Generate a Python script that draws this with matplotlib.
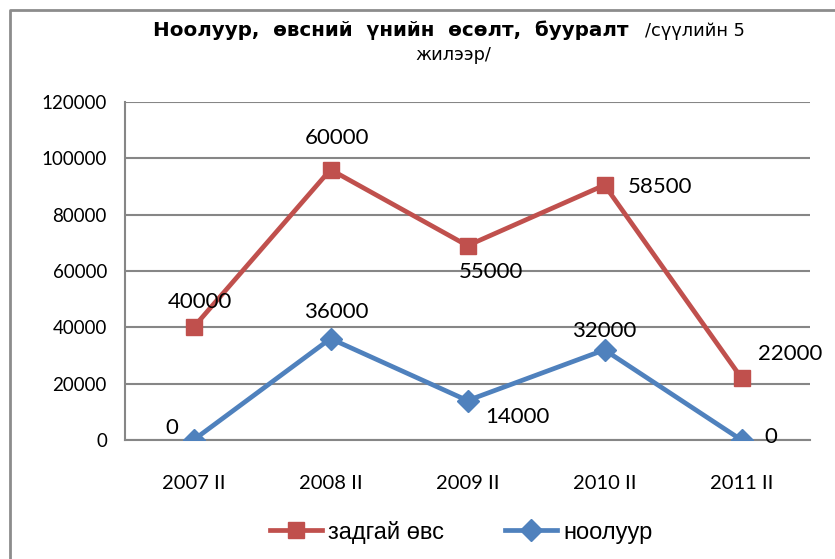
import matplotlib
matplotlib.use("Agg")
import matplotlib.pyplot as plt
from matplotlib.lines import Line2D
import numpy as np

categories = ["2007 II", "2008 II", "2009 II", "2010 II", "2011 II"]
nooluur = [0, 36000, 14000, 32000, 0]
zadgai_ovs = [40000, 60000, 55000, 58500, 22000]
yticks = [0, 20000, 40000, 60000, 80000, 100000, 120000]

RED = "#C0504D"
BLUE = "#4F81BD"
GRID = "#868686"

fig = plt.figure(figsize=(8.35, 5.59), dpi=100)
ax = fig.add_axes([125/835, 1-440/559, (810-125)/835, (440-102)/559])

x = np.arange(len(categories))
stacked = np.array(nooluur) + np.array(zadgai_ovs)

ax.plot(x, stacked, color=RED, lw=3.4, marker="s", ms=12, mec=RED, mfc=RED, zorder=3,
        label="задгай өвс")
ax.plot(x, nooluur, color=BLUE, lw=3.4, marker="D", ms=11, mec=BLUE, mfc=BLUE, zorder=4,
        label="ноолуур")

ax.set_xlim(-0.5, len(categories) - 0.5)
ax.set_ylim(0, 120000)
ax.set_yticks(yticks)
ax.set_yticklabels([str(v) for v in yticks], fontsize=13.5, family="Lato")
ax.set_xticks(x)
ax.set_xticklabels(categories, fontsize=14.5, family="Lato")
ax.tick_params(axis="y", length=0, pad=13)
ax.tick_params(axis="x", length=0, pad=25)
ax.grid(axis="y", color=GRID, lw=1.5)
ax.set_axisbelow(True)
for s in ["top", "right"]:
    ax.spines[s].set_visible(False)
ax.spines["left"].set_color(GRID)
ax.spines["left"].set_linewidth(1.5)
ax.spines["bottom"].set_color(GRID)
ax.spines["bottom"].set_linewidth(1.5)

# data labels (offsets in pixels)
red_off = [(6, 25), (6, 32), (23, -26), (56, -2), (49, 24)]
blue_off = [(-22, 12), (6, 27), (50, -16), (0, 19), (29, 3)]
for i in range(len(categories)):
    ax.annotate(str(zadgai_ovs[i]), (x[i], stacked[i]), xytext=red_off[i],
                textcoords="offset pixels", ha="center", va="center",
                fontsize=16, family="Lato")
    ax.annotate(str(nooluur[i]), (x[i], nooluur[i]), xytext=blue_off[i],
                textcoords="offset pixels", ha="center", va="center",
                fontsize=16, family="Lato")

# title
fig.text(153/835, 1-30/559, "Ноолуур,  өвсний  үнийн  өсөлт,  бууралт", fontsize=14.3,
         fontweight="bold", family="DejaVu Sans", ha="left", va="center")
fig.text(745/835, 1-31/559, "/сүүлийн 5", fontsize=12.8, family="DejaVu Sans",
         ha="right", va="center")
fig.text(453/835, 1-55/559, "жилээр/", fontsize=12.8, family="DejaVu Sans",
         ha="center", va="center")

# legend
leg = fig.legend(handles=ax.get_lines(), loc="center", bbox_to_anchor=(461/835, 1-532/559),
                 ncol=2, frameon=False, prop={"family": "Liberation Sans", "size": 17},
                 handlelength=2.2, columnspacing=2.6, handletextpad=0.25)

# outer frame (left and top)
fig.add_artist(Line2D([10/835, 10/835, 1.0], [0, 1-10/559, 1-10/559],
                      transform=fig.transFigure, color="#8C8C8C", lw=2))

fig.savefig("out.png", dpi=100)
